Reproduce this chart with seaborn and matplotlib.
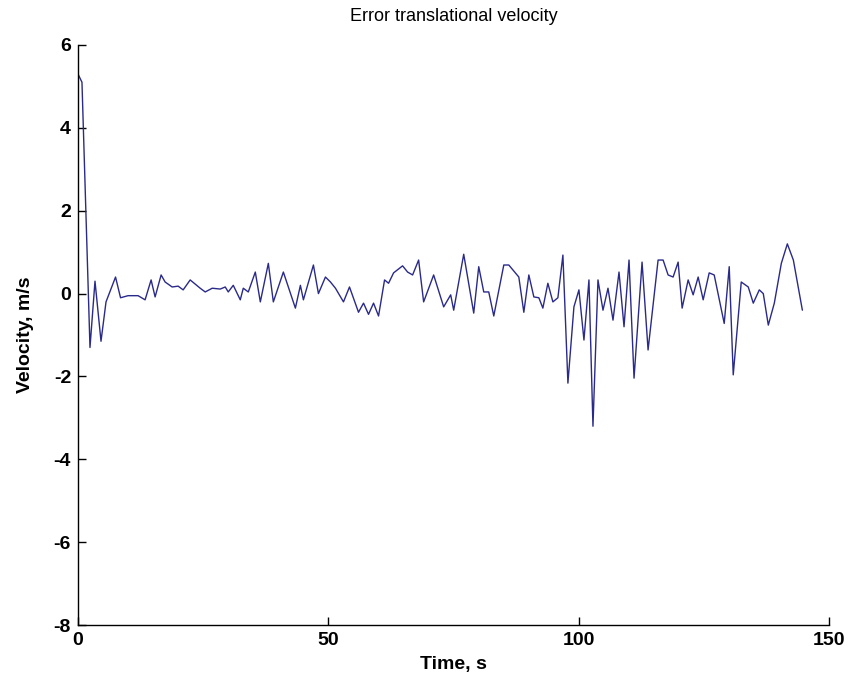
import pandas as pd
import matplotlib.pyplot as plt
import seaborn as sns

# Values
time_s = [0, 0.8, 2.4, 3.4, 4.6, 5.6, 7.5, 8.5, 10, 12, 13.4, 14.6, 15.4, 16.6,
          17.4, 18.8, 20, 21, 22.4, 24.4, 25.4, 26.8, 28.4, 29.4, 30, 31, 32.4,
          33, 34, 35.4, 36.4, 38, 39, 41, 43.4, 44.4, 45, 47, 48, 49.4, 50.4,
          51.4, 53, 54.2, 56, 57, 58, 59, 60, 61.2, 62, 63, 64.8, 65.8, 66.8,
          68, 69, 71, 73, 74.4, 75, 77, 79, 80, 81, 82, 83, 85, 86, 88, 89, 90,
          91, 92, 92.8, 93.8, 94.8, 95.8, 96.8, 97.8, 99, 100, 101, 102, 102.8,
          103.8, 104.8, 105.8, 106.8, 108, 109, 110, 111, 112.6, 113.8, 115.8,
          116.8, 117.8, 118.8, 119.8, 120.6, 121.8, 122.8, 123.8, 124.8, 126,
          127, 129, 130, 130.8, 132.4, 133.8, 134.8, 136, 136.8, 137.8, 139,
          140.4, 141.6, 142.8, 144.6]
velocity = [5.3, 5.1, -1.3, 0.3, -1.15, -0.2, 0.4, -0.1, -0.05, -0.05, -0.15,
            0.33, -0.08, 0.45, 0.28, 0.16, 0.18, 0.09, 0.33, 0.13, 0.04, 0.13,
            0.11, 0.16, 0.04, 0.2, -0.15, 0.13, 0.04, 0.52, -0.2, 0.73, -0.2,
            0.52, -0.35, 0.2, -0.15, 0.69, 0.0, 0.4, 0.28, 0.13, -0.2, 0.16,
            -0.45, -0.23, -0.5, -0.23, -0.54, 0.33, 0.25, 0.5, 0.67, 0.52, 0.45,
            0.81, -0.2, 0.45, -0.32, -0.03, -0.4, 0.95, -0.47, 0.65, 0.04, 0.04,
            -0.54, 0.69, 0.69, 0.4, -0.45, 0.45, -0.08, -0.1, -0.35, 0.25, -0.2,
            -0.1, 0.93, -2.16, -0.32, 0.09, -1.12, 0.33, -3.2, 0.33, -0.4, 0.13,
            -0.64, 0.52, -0.8, 0.81, -2.04, 0.76, -1.36, 0.81, 0.81, 0.45, 0.4,
            0.76, -0.35, 0.33, -0.03, 0.4, -0.15, 0.5, 0.45, -0.72, 0.65, -1.96,
            0.28, 0.16, -0.23, 0.09, 0.0, -0.76, -0.23, 0.73, 1.2, 0.81, -0.4]

x_ticks = [0, 50, 100, 150]
y_ticks = [-8, -6, -4, -2, 0, 2, 4, 6]

sns.set_theme(style="white")
plt.rcParams['font.family'] = ['Liberation Sans', 'DejaVu Sans']
plt.rcParams['axes.unicode_minus'] = False

df = pd.DataFrame({'Time': time_s, 'Velocity': velocity})

fig = plt.figure(figsize=(8.52, 6.81), dpi=100)
ax = fig.add_axes([0.0915, 0.082, 0.882, 0.852])

sns.lineplot(data=df, x='Time', y='Velocity', sort=False, estimator=None,
             color='#2a2a8a', linewidth=1.0, ax=ax)

ax.set_xlim(0, 150)
ax.set_ylim(-8, 6)
ax.set_xticks(x_ticks)
ax.set_yticks(y_ticks)
ax.tick_params(bottom=True, left=True, direction='in', length=6, width=1,
               color='black', labelcolor='black', labelsize=14, pad=5)
for lab in ax.get_xticklabels() + ax.get_yticklabels():
    lab.set_fontweight('bold')

for side in ['top', 'right']:
    ax.spines[side].set_visible(False)
for side in ['left', 'bottom']:
    ax.spines[side].set_color('black')
    ax.spines[side].set_linewidth(1.0)

ax.set_title('Error translational velocity', fontsize=13, color='black', pad=17)
ax.set_xlabel('Time, s', fontsize=14, fontweight='bold', color='black', labelpad=5)
ax.set_ylabel('Velocity, m/s', fontsize=14, fontweight='bold', color='black',
              labelpad=14)

fig.savefig('out.png', dpi=100)
